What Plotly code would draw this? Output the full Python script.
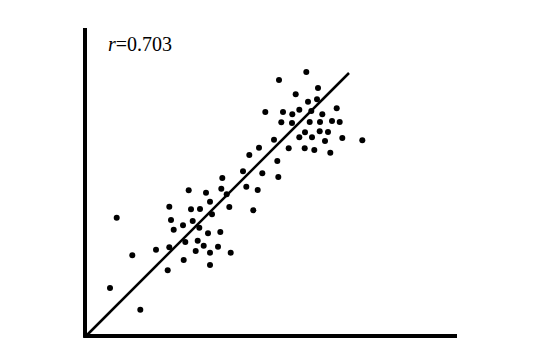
import plotly.graph_objects as go

# scatter points (arbitrary units)
xs = [31.7, 47.3, 25, 55.3, 71, 82.7, 84.3, 86, 88.7, 84.3, 98.7, 98, 103.7, 106, 107.7, 100.3,
      115, 121, 114.3, 112.7, 110.7, 118.7, 123, 125, 127, 125, 125, 133, 135.3, 136.3, 137.3,
      141.7, 144.3, 145.7, 158, 161.3, 168.3, 172.7,
      194, 221.3, 233, 210.7, 223, 232, 180.3, 198, 207.3, 214.3, 226.3, 237.3, 251.7, 196.3,
      207, 224.7, 235, 247, 254.7, 220, 214.3, 227, 234.7, 243, 240, 257.3, 277.3, 189, 203.7,
      219.7, 229.3, 245.3, 174, 164.3, 192.3, 177.3, 193.3]
ys = [118.3, 80.7, 48, 26.3, 86.3, 65.7, 129.3, 116, 106.3, 88.7, 76, 110.7, 145.7, 126.7, 115, 94,
      127, 143.3, 108.3, 95.3, 85, 90.3, 102.7, 134.3, 121.7, 83.3, 71, 89.3, 104, 147.3, 158,
      141.7, 129, 83.3, 164.7, 149.3, 125.7, 146,
      256, 264, 248, 241.7, 234.3, 236.7, 224, 224, 221.7, 226.3, 225, 221.7, 227.7, 213.7,
      213, 214, 214, 215, 214, 203.7, 198.7, 198.7, 204.7, 204, 195, 198, 195.7, 196.3, 187.7,
      187.7, 186, 183.3, 188.3, 181, 175, 162.7, 159]

# fitted line endpoints
fit_x = [2, 264]
fit_y = [1, 263]

r_label = "<i>r</i>=0.703"

fig = go.Figure()
fig.add_trace(go.Scatter(x=fit_x, y=fit_y, mode="lines",
                         line=dict(color="black", width=2.5), hoverinfo="skip"))
fig.add_trace(go.Scatter(x=xs, y=ys, mode="markers",
                         marker=dict(color="black", size=6, line=dict(width=0))))

fig.update_xaxes(range=[0, 372], showgrid=False, zeroline=False, showticklabels=False,
                 ticks="", showline=False)
fig.update_yaxes(range=[0, 308], showgrid=False, zeroline=False, showticklabels=False,
                 ticks="", showline=False)

fig.add_shape(type="line", xref="paper", yref="paper", x0=0, x1=0, y0=-0.006, y1=1,
              line=dict(color="black", width=4))
fig.add_shape(type="line", xref="paper", yref="paper", x0=-0.004, x1=1, y0=0, y1=0,
              line=dict(color="black", width=4))

fig.add_annotation(text=r_label, xref="paper", yref="paper", x=0.0565, y=0.99,
                   xanchor="left", yanchor="top", showarrow=False,
                   font=dict(family="Liberation Serif", size=20, color="black"))

fig.update_layout(width=538, height=362, margin=dict(l=85, r=81, t=28, b=26),
                  plot_bgcolor="white", paper_bgcolor="white", showlegend=False)

fig.write_html("out.html")
